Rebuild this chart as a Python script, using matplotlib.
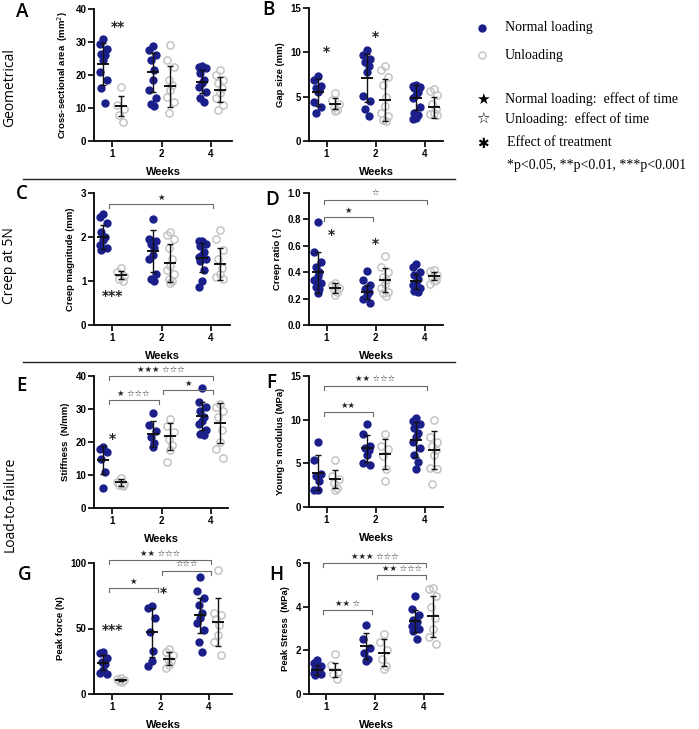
import matplotlib
matplotlib.use('Agg')
import matplotlib.pyplot as plt
from matplotlib.lines import Line2D
import numpy as np

W, H = 699, 729
BLUE = '#1b1f8a'
GREY = '#c4c4c4'
SANS = ['Liberation Sans', 'DejaVu Sans']

weeks = ['1', '2', '4']

# ---- data (normal loading = nl, unloading = ul) ----
A_nl = [[30.8, 29.5, 27.8, 26.5, 26.0, 24.5, 21.0, 18.5, 16.0, 11.5],
        [28.9, 27.5, 26.0, 24.5, 21.5, 18.4, 15.6, 12.9, 11.1, 10.5],
        [22.8, 22.5, 22.0, 20.5, 18.5, 17.5, 16.5, 15.0, 13.0, 11.8]]
A_ul = [[16.5, 10.8, 9.8, 8.0, 5.8],
        [29.0, 24.5, 22.5, 18.6, 16.9, 15.4, 13.2, 11.8, 8.5],
        [21.5, 20.0, 18.5, 17.5, 16.0, 14.5, 13.0, 11.0, 9.5]]
A_mean = [[23.3, 20.8, 17.9], [10.6, 16.6, 15.6]]
A_sd = [[6.3, 5.8, 3.5], [2.9, 6.2, 3.9]]

B_nl = [[7.3, 6.9, 6.2, 6.0, 5.8, 5.5, 4.4, 3.8, 3.2],
        [10.3, 9.7, 9.2, 8.9, 8.5, 7.8, 5.1, 4.5, 3.6, 2.8],
        [6.3, 6.2, 6.1, 6.0, 5.5, 5.2, 4.8, 3.8, 3.2, 2.9, 2.6, 2.5]]
B_ul = [[5.4, 4.6, 4.2, 3.85, 3.5, 3.35],
        [8.5, 8.0, 7.2, 6.3, 5.0, 4.0, 3.2, 2.8, 2.4, 2.3],
        [5.9, 5.6, 5.2, 4.2, 3.6, 3.2, 3.0, 2.9]]
B_mean = [[5.5, 7.1, 4.9], [4.2, 4.6, 3.8]]
B_sd = [[1.5, 2.7, 1.4], [0.6, 2.4, 1.2]]

C_nl = [[2.53, 2.46, 2.31, 2.12, 2.0, 1.93, 1.82, 1.76, 1.70],
        [2.4, 1.95, 1.9, 1.85, 1.75, 1.6, 1.5, 1.15, 1.05, 1.0],
        [1.92, 1.9, 1.85, 1.8, 1.65, 1.6, 1.55, 1.5, 1.45, 1.25, 1.0, 0.87]]
C_ul = [[1.3, 1.2, 1.12, 1.05, 1.0],
        [2.12, 2.05, 1.95, 1.75, 1.5, 1.35, 1.25, 1.15, 1.05, 1.0, 0.95],
        [2.15, 1.95, 1.7, 1.5, 1.3, 1.15, 1.1, 1.05]]
C_mean = [[2.0, 1.68, 1.53], [1.13, 1.4, 1.39]]
C_sd = [[0.27, 0.47, 0.33], [0.09, 0.43, 0.37]]

D_nl = [[0.78, 0.55, 0.475, 0.44, 0.405, 0.37, 0.34, 0.32, 0.29, 0.27, 0.24],
        [0.41, 0.34, 0.30, 0.27, 0.25, 0.23, 0.20, 0.17],
        [0.46, 0.44, 0.40, 0.38, 0.35, 0.32, 0.30, 0.28, 0.26, 0.25]]
D_ul = [[0.32, 0.30, 0.28, 0.27, 0.25, 0.23],
        [0.52, 0.44, 0.40, 0.36, 0.34, 0.31, 0.28, 0.25, 0.24, 0.22],
        [0.42, 0.41, 0.38, 0.36, 0.34, 0.33, 0.31]]
D_mean = [[0.40, 0.25, 0.33], [0.28, 0.34, 0.37]]
D_sd = [[0.155, 0.05, 0.06], [0.04, 0.09, 0.03]]

E_nl = [[18.4, 17.9, 16.9, 14.9, 10.8, 6.1],
        [28.8, 25.3, 23.3, 21.5, 19.8, 18.5],
        [36.3, 32.0, 30.5, 29.5, 27.5, 26.5, 25.5, 23.5, 22.5, 22.0]]
E_ul = [[9.0, 8.0, 7.2, 7.0, 6.8],
        [27.0, 25.0, 23.0, 21.0, 19.0, 17.5, 14.0],
        [31.5, 30.5, 29.5, 27.5, 23.5, 20.0, 18.0, 15.2]]
E_mean = [[14.5, 22.5, 27.8], [7.8, 21.7, 25.8]]
E_sd = [[4.3, 3.9, 4.2], [1.0, 4.0, 6.1]]

F_nl = [[7.5, 5.4, 3.8, 3.6, 3.0, 2.0, 2.0],
        [9.5, 8.4, 7.0, 6.8, 6.5, 6.0, 5.0, 4.8],
        [10.2, 9.8, 9.5, 9.0, 8.5, 8.0, 7.5, 6.8, 6.0, 5.2, 4.3]]
F_ul = [[5.4, 3.6, 3.2, 2.7, 2.2, 1.9],
        [8.4, 7.0, 6.6, 5.8, 4.3, 3.0],
        [10.0, 8.0, 7.5, 7.0, 6.5, 6.0, 4.5, 4.3, 2.6]]
F_mean = [[3.9, 6.7, 7.7], [3.2, 6.1, 6.5]]
F_sd = [[2.0, 1.6, 2.0], [1.0, 1.7, 2.2]]

G_nl = [[32.4, 31.0, 27.3, 24.7, 23.0, 18.4, 15.8, 15.0],
        [67, 66, 58, 47, 33, 25, 21],
        [89, 79, 73, 68, 62, 58, 54, 49, 40, 32]]
G_ul = [[12.0, 11.2, 10.8, 10.3, 9.5],
        [34, 32, 30, 27, 25, 22, 20],
        [95, 62, 60, 57, 53, 45, 40, 30]]
G_mean = [[24, 47, 60], [11, 27, 55]]
G_sd = [[6, 19, 13.5], [0.8, 5, 18]]

H_nl = [[1.55, 1.4, 1.3, 1.2, 1.1, 1.0, 0.95, 0.9, 0.85],
        [3.15, 2.5, 2.1, 1.9, 1.6, 1.5],
        [4.5, 3.9, 3.6, 3.4, 3.3, 3.2, 3.1, 3.0, 2.9, 2.5]]
H_ul = [[1.85, 1.35, 1.0, 0.9, 0.7],
        [2.75, 2.4, 2.0, 1.6, 1.3, 1.15],
        [4.85, 4.8, 4.5, 4.0, 3.5, 3.0, 2.6, 2.3]]
H_mean = [[1.1, 2.2, 3.35], [1.12, 1.9, 3.55]]
H_sd = [[0.25, 0.6, 0.5], [0.32, 0.6, 0.95]]

# brackets: (from group, to group, height, label); treatment marks: (x, y, label)
C_br = [(0, 2, 2.76, '★')]
D_br = [(0, 2, 0.95, '☆'), (0, 1, 0.82, '★')]
E_br = [(0, 2, 40, '★★★ ☆☆☆'), (1, 2, 35.8, '★'), (0, 1, 32.7, '★ ☆☆☆')]
F_br = [(0, 2, 13.9, '★★ ☆☆☆'), (0, 1, 10.9, '★★')]
G_br = [(0, 2, 102, '★★ ☆☆☆'), (1, 2, 94, '☆☆☆'), (0, 1, 81, '★')]
H_br = [(0, 2, 6.0, '★★★ ☆☆☆'), (1, 2, 5.45, '★★ ☆☆☆'), (0, 1, 3.85, '★★ ☆')]

A_tr = [(0.12, 34.5, '**')]
B_tr = [(0.0, 10.0, '*'), (1.0, 11.7, '*')]
C_tr = [(0.0, 0.65, '***')]
D_tr = [(0.1, 0.68, '*'), (1.0, 0.61, '*')]
E_tr = [(0.0, 21.0, '*')]
G_tr = [(0.0, 49, '***'), (1.05, 77, '*')]

fig = plt.figure(figsize=(W / 100, H / 100), dpi=100)


def spread(n):
    pattern = [0, -0.07, 0.07, -0.035, 0.035]
    return np.array([pattern[k % 5] for k in range(n)])


def panel(box, ticks_px, ymax, yticks, ylabel, nl, ul, mean, sd, brackets=(), treat=(), fmt='{:g}'):
    l, r, t, b = box
    ax = fig.add_axes([l / W, 1 - b / H, (r - l) / W, (b - t) / H])
    t0, t2 = ticks_px
    s = (t2 - t0) / 2
    ax.set_xlim((l - t0) / s, (r - t0) / s)
    ax.set_ylim(0, ymax)

    for g in range(3):
        xb = g - 0.18
        xg = g + 0.18
        ax.plot(xb + spread(len(nl[g])), nl[g], 'o', ms=5, color=BLUE, mec=BLUE, zorder=2, clip_on=False)
        ax.plot(xg + spread(len(ul[g])), ul[g], 'o', ms=5.2, mfc='none', mec=GREY, mew=1.1,
                zorder=2, clip_on=False)
        for x, m, e in [(xb, mean[0][g], sd[0][g]), (xg, mean[1][g], sd[1][g])]:
            ax.errorbar([x], [m], yerr=[e], fmt='none', ecolor='#111111', elinewidth=1,
                        capsize=2.5, capthick=1, zorder=3)
            ax.hlines(m, x - 0.12, x + 0.12, color='#111111', lw=1.4, zorder=3)

    for i, j, y, txt in brackets:
        x0 = i + (0.04 if i == 1 else -0.06)
        x1 = j + (-0.06 if j == 1 else 0.05)
        d = 0.03 * ymax
        ax.plot([x0, x0, x1, x1], [y - d, y, y, y - d], color='#6a6a6a', lw=0.8, clip_on=False)
        ax.text((x0 + x1) / 2, y + 0.012 * ymax, txt, ha='center', va='bottom', fontsize=6,
                family='DejaVu Sans', color='#222222', clip_on=False)

    for x, y, txt in treat:
        ax.text(x, y, txt, ha='center', va='center', fontsize=10, fontweight='bold',
                family='DejaVu Sans', color='#222222')

    for sp in ['top', 'right']:
        ax.spines[sp].set_visible(False)
    for sp in ['left', 'bottom']:
        ax.spines[sp].set_linewidth(1.3)
    ax.set_xticks([0, 1, 2], weeks)
    ax.set_yticks(yticks, [fmt.format(v) for v in yticks])
    ax.tick_params(length=4, width=1.2, labelsize=7, pad=1.5)
    for lab in ax.get_xticklabels() + ax.get_yticklabels():
        lab.set_fontweight('bold')
        lab.set_family(SANS)
    ax.set_xlabel('Weeks', fontsize=8, fontweight='bold', family=SANS, labelpad=6)
    ax.set_ylabel(ylabel, fontsize=6.8, fontweight='bold', family=SANS, labelpad=4)
    return ax


LEFT = (112, 211)
RIGHT = (326.5, 425)

panel((94, 232, 9, 141), LEFT, 40, [0, 10, 20, 30, 40], 'Cross-sectional area  (mm$^2$)',
      A_nl, A_ul, A_mean, A_sd, treat=A_tr)
panel((309, 443, 8, 141), RIGHT, 15, [0, 5, 10, 15], 'Gap size (mm)',
      B_nl, B_ul, B_mean, B_sd, treat=B_tr)
panel((94, 230, 193, 325), LEFT, 3, [0, 1, 2, 3], 'Creep magnitude (mm)',
      C_nl, C_ul, C_mean, C_sd, C_br, C_tr)
panel((309, 443, 193, 325), RIGHT, 1.0, [0, 0.2, 0.4, 0.6, 0.8, 1.0], 'Creep ratio (-)',
      D_nl, D_ul, D_mean, D_sd, D_br, D_tr, fmt='{:.1f}')
panel((94, 228, 376, 508), LEFT, 40, [0, 10, 20, 30, 40], 'Stiffness  (N/mm)',
      E_nl, E_ul, E_mean, E_sd, E_br, E_tr)
panel((309, 443, 376, 507), RIGHT, 15, [0, 5, 10, 15], "Young's modulus (MPa)",
      F_nl, F_ul, F_mean, F_sd, F_br)
panel((94, 232, 563, 694), (112, 209), 100, [0, 50, 100], 'Peak force (N)',
      G_nl, G_ul, G_mean, G_sd, G_br, G_tr)
panel((309, 443, 563, 694), (326, 424), 6, [0, 2, 4, 6], 'Peak Stress  (MPa)',
      H_nl, H_ul, H_mean, H_sd, H_br)

# panel letters
letters = [('A', 22, 12), ('B', 268, 10), ('C', 22, 194), ('D', 272, 200),
           ('E', 22, 386), ('F', 271, 383), ('G', 25, 575), ('H', 276, 575)]
for txt, x, y in letters:
    fig.text(x / W, 1 - y / H, txt, ha='center', va='center', fontsize=13.5,
             family='Open Sans', fontweight='semibold')

# row titles and separators
for txt, y in [('Geometrical', 88), ('Creep at 5N', 266), ('Load-to-failure', 504)]:
    fig.text(10 / W, 1 - y / H, txt, rotation=90, ha='center', va='center', fontsize=10,
             family='Open Sans')
for y in [179, 362]:
    fig.add_artist(Line2D([23 / W, 455 / W], [1 - y / H, 1 - y / H], color='#222222', lw=1))

# legend
SERIF = ['Liberation Serif', 'DejaVu Serif']
fig.add_artist(Line2D([482 / W], [1 - 28 / H], marker='o', ms=5, color=BLUE, ls='none'))
fig.add_artist(Line2D([482 / W], [1 - 55 / H], marker='o', ms=5, mfc='none', mec=GREY, mew=1.1,
                      ls='none'))
fig.text(505 / W, 1 - 28 / H, 'Normal loading', va='center', fontsize=10, family=SERIF)
fig.text(505 / W, 1 - 55 / H, 'Unloading', va='center', fontsize=10, family=SERIF)
fig.text(483 / W, 1 - 99 / H, '★', ha='center', va='center', fontsize=11, family='DejaVu Sans')
fig.text(483 / W, 1 - 119 / H, '☆', ha='center', va='center', fontsize=11, family='DejaVu Sans')
fig.text(483 / W, 1 - 144 / H, '✱', ha='center', va='center', fontsize=10, family='DejaVu Sans')
fig.text(505 / W, 1 - 99 / H, 'Normal loading:  effect of time', va='center', fontsize=10, family=SERIF)
fig.text(505 / W, 1 - 119 / H, 'Unloading:  effect of time', va='center', fontsize=10, family=SERIF)
fig.text(507 / W, 1 - 142 / H, 'Effect of treatment', va='center', fontsize=10, family=SERIF)
fig.text(507 / W, 1 - 165 / H, '*p<0.05, **p<0.01, ***p<0.001', va='center', fontsize=10, family=SERIF)

fig.savefig('out.png', dpi=100)
